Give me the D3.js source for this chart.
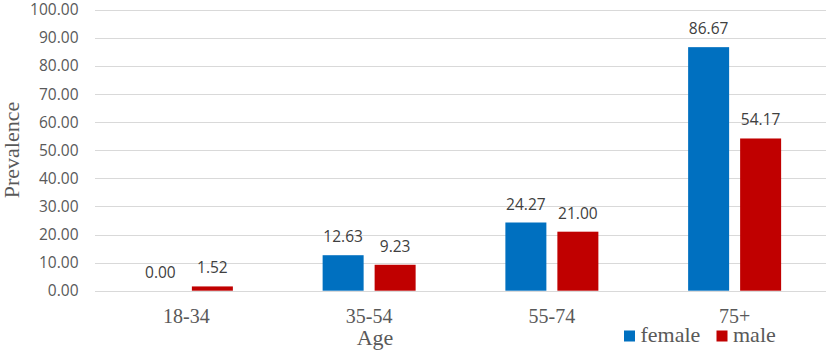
<!DOCTYPE html>
<html><head><meta charset="utf-8">
<script src="https://cdn.jsdelivr.net/npm/d3@7"></script>
<style>body{margin:0;background:#fff}svg{display:block}</style>
</head><body>
<svg id="c" width="829" height="354"></svg>
<script>
const categories = ["18-34", "35-54", "55-74", "75+"];
const seriesNames = ["female", "male"];
const female = [0.00, 12.63, 24.27, 86.67];
const male = [1.52, 9.23, 21.00, 54.17];
const yTicks = [0, 10, 20, 30, 40, 50, 60, 70, 80, 90, 100];
const colors = {female: "#0070C0", male: "#C00000"};

(function () {
const svg = d3.select("#c");
const SANS = "'Open Sans', 'Liberation Sans', sans-serif";
const SERIF = "'Liberation Serif', 'Times New Roman', serif";
const pLeft = 95, pRight = 826, pTop = 9.7, pBottom = 290.7;
const x = d3.scaleBand().domain(categories).range([pLeft, pRight]);
const y = d3.scaleLinear().domain([0, 100]).range([pBottom, pTop]);
const bw = 41, gap = 11;
const groupW = 2 * bw + gap;
const xs = d3.scaleOrdinal().domain(seriesNames).range([0, bw + gap]);

// gridlines
svg.append("g").selectAll("line").data(yTicks).join("line")
  .attr("x1", pLeft).attr("x2", pRight)
  .attr("y1", d => Math.round(y(d)) + 0.5).attr("y2", d => Math.round(y(d)) + 0.5)
  .attr("stroke", "#D9D9D9").attr("stroke-width", 1.2);

// y tick labels
svg.append("g").selectAll("text").data(yTicks).join("text")
  .attr("x", 78.5).attr("y", d => y(d)).attr("dy", "0.36em")
  .attr("text-anchor", "end")
  .attr("font-family", SANS).attr("font-size", 15.5)
  .attr("fill", "#595959").text(d => d.toFixed(2));

const data = [];
categories.forEach((c, i) => {
  data.push({cat: c, s: "female", v: female[i]});
  data.push({cat: c, s: "male", v: male[i]});
});

const bx = d => x(d.cat) + x.bandwidth() / 2 - groupW / 2 + xs(d.s);

svg.append("g").selectAll("rect").data(data).join("rect")
  .attr("x", bx).attr("width", bw)
  .attr("y", d => y(d.v)).attr("height", d => y(0) - y(d.v))
  .attr("fill", d => colors[d.s]);

svg.append("g").selectAll("text").data(data).join("text")
  .attr("x", d => bx(d) + bw / 2).attr("y", d => y(d.v) - 13)
  .attr("text-anchor", "middle")
  .attr("font-family", SANS).attr("font-size", 15.5)
  .attr("fill", "#404040").text(d => d.v.toFixed(2));

// category labels
svg.append("g").selectAll("text").data(categories).join("text")
  .attr("x", d => x(d) + x.bandwidth() / 2).attr("y", 322.5)
  .attr("text-anchor", "middle")
  .attr("font-family", SERIF).attr("font-size", 20)
  .attr("fill", "#595959").text(d => d);

// axis titles
svg.append("text").attr("x", 375).attr("y", 344.5).attr("text-anchor", "middle")
  .attr("font-family", SERIF).attr("font-size", 22)
  .attr("fill", "#595959").text("Age");
svg.append("text").attr("transform", "translate(19,150) rotate(-90)").attr("text-anchor", "middle")
  .attr("font-family", SERIF).attr("font-size", 22)
  .attr("fill", "#595959").text("Prevalence");

// legend
const legX = [624, 716.5];
const leg = svg.append("g").selectAll("g").data(seriesNames).join("g")
  .attr("transform", (d, i) => `translate(${legX[i]},0)`);
leg.append("rect").attr("x", 0).attr("y", 330.5).attr("width", 11).attr("height", 11)
  .attr("fill", d => colors[d]);
leg.append("text").attr("x", 16.5).attr("y", 341.5)
  .attr("font-family", SERIF).attr("font-size", 22)
  .attr("fill", "#595959").text(d => d);
})();
</script>
</body></html>
